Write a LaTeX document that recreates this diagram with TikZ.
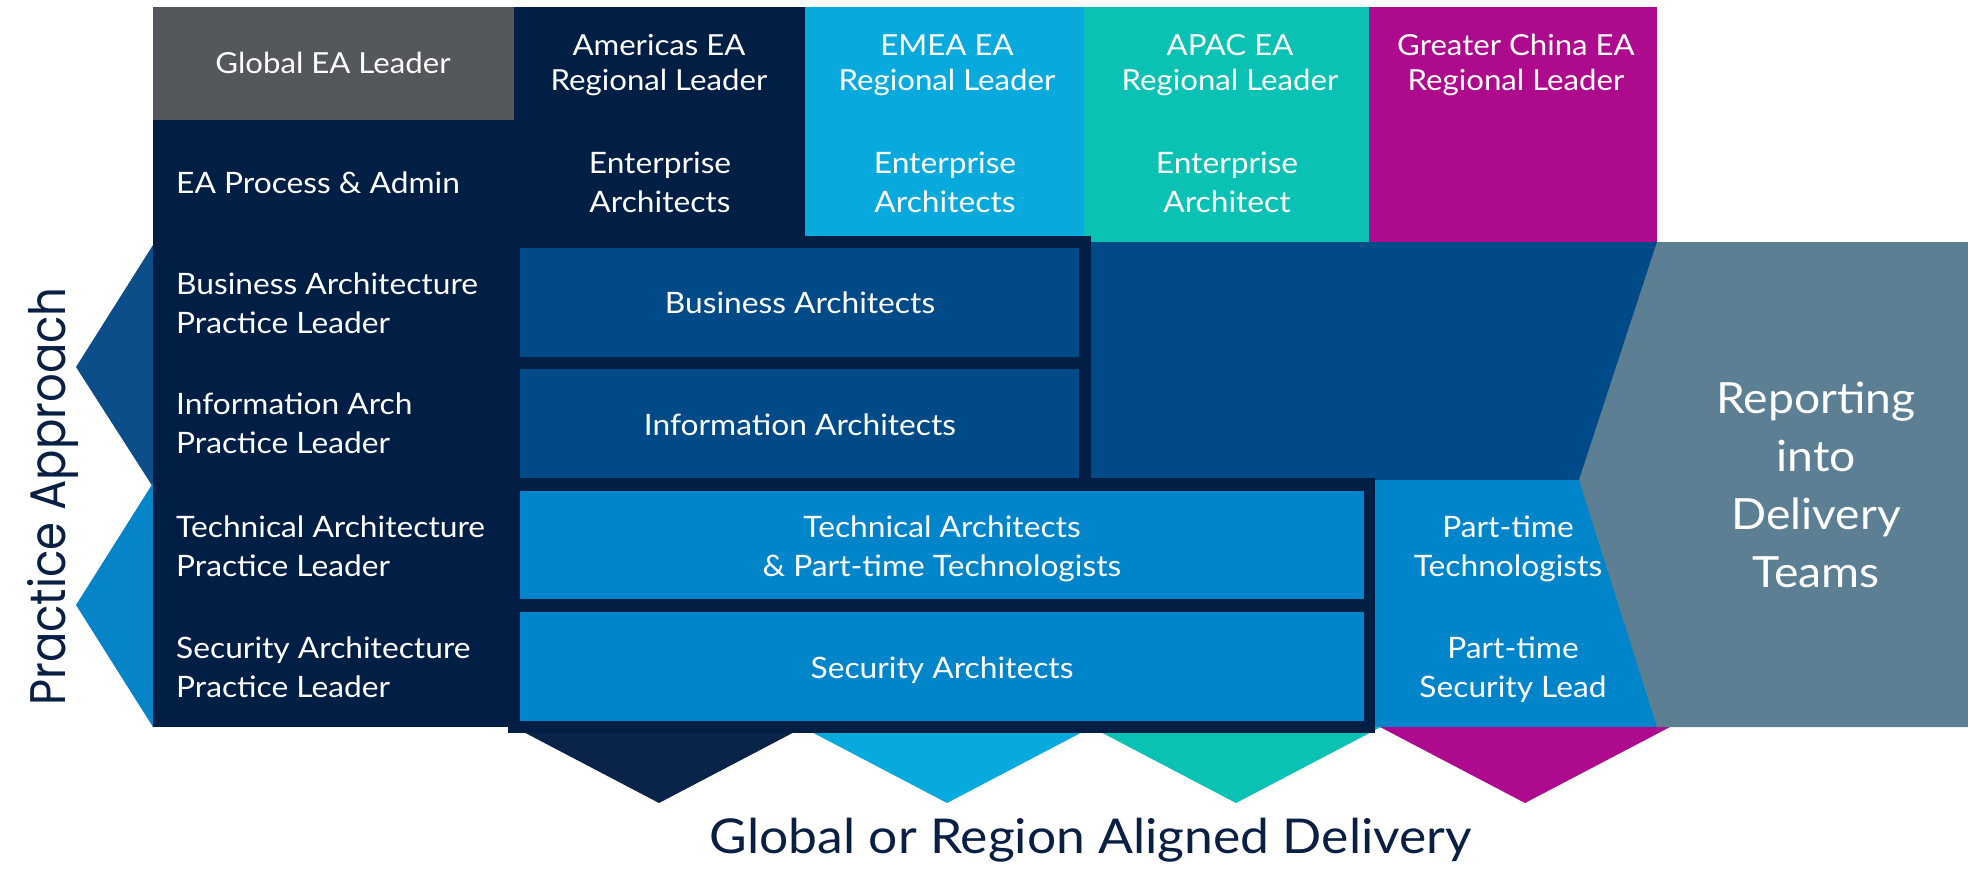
\documentclass[tikz,border=0pt]{standalone}
\usepackage{fontspec}
\setmainfont{Lato}[FakeStretch=1.075]
\newfontfamily\popfont{Poppins}[FakeStretch=0.9]
\definecolor{navy}{HTML}{011E45}
\definecolor{eagray}{HTML}{54575B}
\definecolor{midblue}{HTML}{004B87}
\definecolor{techblue}{HTML}{0085CA}
\definecolor{emeablue}{HTML}{08A9DD}
\definecolor{apacteal}{HTML}{09C2B4}
\definecolor{gcmag}{HTML}{AD0A8D}
\definecolor{rptgray}{HTML}{5D7F94}
\definecolor{chevup}{HTML}{0B4E8A}
\definecolor{chevlow}{HTML}{0584C8}
\definecolor{navytri}{HTML}{0A2348}
\definecolor{textnavy}{HTML}{0A1F44}
\begin{document}
\begin{tikzpicture}[x=1pt,y=-1pt,
  lbl/.style={text=white, inner sep=0pt, font=\fontsize{29.5}{38.5}\selectfont, align=center, anchor=base},
  lead/.style={lbl, font=\fontsize{29}{35}\selectfont},
  lft/.style={lbl, align=left, anchor=base west},
]
\useasboundingbox (0,0) rectangle (1968,873);
\fill[white] (0,0) rectangle (1968,873);
% left chevrons (Practice Approach)
\fill[chevup] (153,245) -- (76,367) -- (153,487) -- cycle;
\fill[chevlow] (153,483) -- (76,605) -- (153,727) -- cycle;
% bottom chevrons (delivery)
\fill[navytri] (514,727) -- (659,803) -- (804,727) -- cycle;
\fill[emeablue] (802,727) -- (947,803) -- (1092,727) -- cycle;
\fill[apacteal] (1091,727) -- (1236,803) -- (1381,727) -- cycle;
\fill[gcmag] (1380,727) -- (1525,803) -- (1670,727) -- cycle;
% columns
\fill[navy] (153,7) rectangle (514,727);
\fill[eagray] (153,7) rectangle (514,120);
\fill[navy] (514,7) rectangle (805,236);
\fill[emeablue] (805,7) rectangle (1084,236);
\fill[apacteal] (1084,7) rectangle (1369,242);
\fill[gcmag] (1369,7) rectangle (1657,242);
\fill[midblue] (1084,242) rectangle (1657,480);
% practice frames
\fill[navy] (508,236) rectangle (1091,490);
\fill[midblue] (520,248) rectangle (1079,357);
\fill[midblue] (520,369) rectangle (1079,478);
\fill[navy] (508,478) rectangle (1375,733);
\fill[techblue] (520,491) rectangle (1364,599);
\fill[techblue] (520,612) rectangle (1364,721);
\fill[techblue] (1375,480) rectangle (1660,727);
% reporting block
\fill[rptgray] (1657,242) -- (1968,242) -- (1968,727) -- (1657,727) -- (1579,480) -- cycle;

% texts (base = baseline of the last line)
\node[lead] (gl) at (333,73) {Global EA Leader};
\node[lead] (am) at (659,90) {Americas EA\\Regional Leader};
\node[lead] (em) at (947,90) {EMEA EA\\Regional Leader};
\node[lead] (ap) at (1230,90) {APAC EA\\Regional Leader};
\node[lead] (gc) at (1516,90) {Greater China EA\\Regional Leader};
\node[lbl] (eaam) at (660,212) {Enterprise\\Architects};
\node[lbl] (eaem) at (945,212) {Enterprise\\Architects};
\node[lbl] (eaap) at (1227,212) {Enterprise\\Architect};
\node[lft] (proc) at (176,193) {EA Process \& Admin};
\node[lft] (bapl) at (176,333) {Business Architecture\\Practice Leader};
\node[lft] (iapl) at (176,453) {Information Arch\\Practice Leader};
\node[lft] (tapl) at (176,576) {Technical Architecture\\Practice Leader};
\node[lft] (sapl) at (176,697) {Security Architecture\\Practice Leader};
\node[lbl] (ba) at (800,313) {Business Architects};
\node[lbl] (ia) at (800,435) {Information Architects};
\node[lbl] (ta) at (942,576) {Technical Architects\\\& Part-time Technologists};
\node[lbl] (sa) at (942,678) {Security Architects};
\node[lbl] (ptt) at (1508,576) {Part-time\\Technologists};
\node[lbl] (pts) at (1513,697) {Part-time\\Security Lead};
\node[lbl, font=\fontsize{43}{58}\selectfont] (rp) at (1816,587) {Reporting\\into\\Delivery\\Teams};
\node[rotate=90, anchor=base, text=textnavy, inner sep=0pt, font=\popfont\fontsize{50}{60}\selectfont] (pa) at (65,496.5) {Practice Approach};
\node[anchor=base, text=textnavy, inner sep=0pt, font=\fontsize{48}{58}\selectfont] (gr) at (1091,853) {Global or Region Aligned Delivery};
\end{tikzpicture}
\end{document}
